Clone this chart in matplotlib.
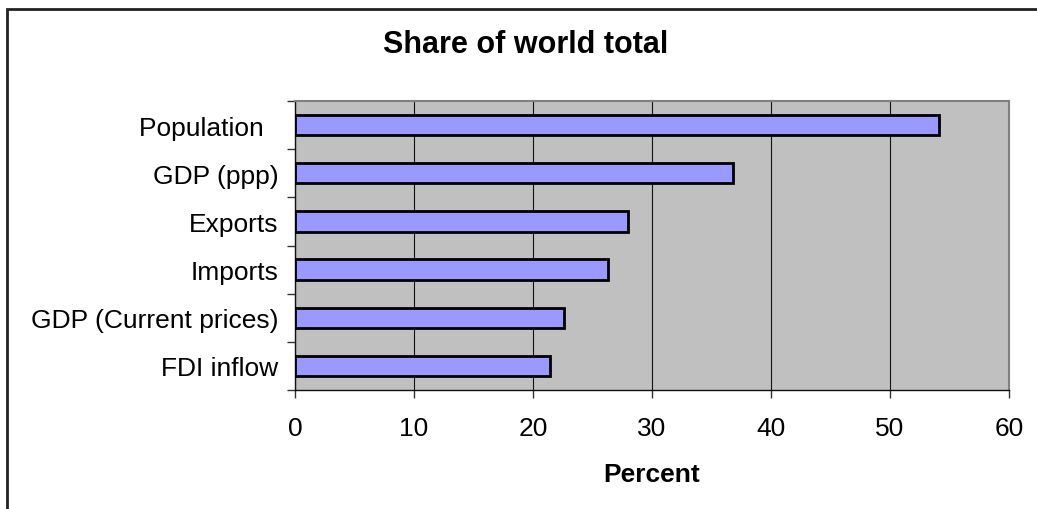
import matplotlib
matplotlib.use("Agg")
import matplotlib.pyplot as plt
from matplotlib.patches import Rectangle
import numpy as np

categories = ["Population", "GDP (ppp)", "Exports", "Imports", "GDP (Current prices)", "FDI inflow"]
values = [54.1, 36.8, 28.0, 26.3, 22.6, 21.4]
xticks = [0, 10, 20, 30, 40, 50, 60]

plt.rcParams['font.family'] = ['Liberation Sans', 'DejaVu Sans']

fig = plt.figure(figsize=(10.37, 5.10), dpi=100)
# outer chart border (top and left visible)
fig.add_artist(Rectangle((7/1037, -0.1), 1.2, (510-10)/510 + 0.1, transform=fig.transFigure,
                         fill=False, edgecolor='#222222', linewidth=2.0))

ax = fig.add_axes([295/1037, (510-391)/510, (1009-295)/1037, (391-102)/510])
ax.set_facecolor('#C0C0C0')

n = len(categories)
ypos = np.arange(n)
ax.barh(ypos, values, height=0.42, color='#9999FF', edgecolor='black', linewidth=2.0, zorder=3)

ax.set_xlim(0, 60)
ax.set_ylim(n - 0.5, -0.5)
ax.set_xticks(xticks)
ax.set_xticklabels([str(t) for t in xticks], fontsize=19)
ax.set_yticks(ypos)
ax.set_yticklabels([c + ("  " if c == "Population" else "") for c in categories], fontsize=19)
ax.tick_params(axis='y', which='major', length=0, pad=12)
ax.set_yticks(np.arange(n + 1) - 0.5, minor=True)
ax.tick_params(axis='y', which='minor', length=6, width=1, color='#333333')
ax.tick_params(axis='x', which='major', length=6, width=1, color='#333333', pad=12.5)

ax.grid(axis='x', color='#111111', linewidth=0.8, zorder=1)
ax.set_axisbelow(True)

for s in ['top', 'right']:
    ax.spines[s].set_color('#808080')
    ax.spines[s].set_linewidth(1.5)
for s in ['left', 'bottom']:
    ax.spines[s].set_color('#111111')
    ax.spines[s].set_linewidth(1.0)

ax.set_xlabel("Percent", fontsize=19, fontweight='bold', labelpad=16)
fig.text(526/1037, 1 - 45/510, "Share of world total", ha='center', va='center',
         fontsize=22, fontweight='bold')

fig.savefig("out.png", dpi=100)
